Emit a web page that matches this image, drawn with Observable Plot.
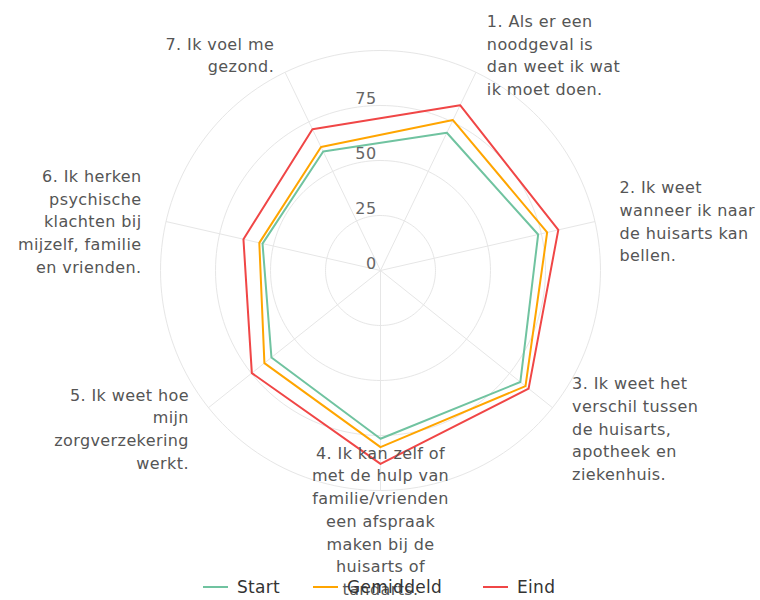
<!DOCTYPE html>
<html>
<head>
<meta charset="utf-8">
<script src="https://cdn.jsdelivr.net/npm/d3@7"></script>
<script src="https://cdn.jsdelivr.net/npm/@observablehq/plot@0.6"></script>
<style>
  html, body { margin: 0; padding: 0; background: #fff; }
  #wrap { position: relative; width: 760px; height: 600px; font-family: "DejaVu Sans", sans-serif; }
  #legend { position: relative; width: 760px; height: 26px; }
  .item { position: absolute; top: 0; height: 26px; display: flex; align-items: center; font-size: 17px; letter-spacing: 0.3px; color: #333; }
  .swatch { width: 25px; height: 0; border-top: 2px solid; margin-right: 9px; }
</style>
</head>
<body>
<div id="wrap"><div id="chart"></div><div id="legend"></div></div>
<script>
const categories = [
  "1. Als er een\nnoodgeval is\ndan weet ik wat\nik moet doen.",
  "2. Ik weet\nwanneer ik naar\nde huisarts kan\nbellen.",
  "3. Ik weet het\nverschil tussen\nde huisarts,\napotheek en\nziekenhuis.",
  "4. Ik kan zelf of\nmet de hulp van\nfamilie/vrienden\neen afspraak\nmaken bij de\nhuisarts of\ntandarts.",
  "5. Ik weet hoe\nmijn\nzorgverzekering\nwerkt.",
  "6. Ik herken\npsychische\nklachten bij\nmijzelf, familie\nen vrienden.",
  "7. Ik voel me\ngezond."
];
const seriesNames = ["Start", "Gemiddeld", "Eind"];
const seriesColors = ["#70c3a0", "#ffa500", "#f04646"];
const startValues = [69.5, 73.5, 81.3, 76.5, 63.4, 55.0, 60.0];
const gemiddeldValues = [75.9, 77.7, 84.3, 80.3, 67.5, 56.5, 62.3];
const eindValues = [83.4, 82.9, 86.1, 87.9, 74.8, 63.9, 71.3];
const radialTicks = [0, 25, 50, 75];
const gridLevels = [25, 50, 75, 100];
const axisMax = 100;

// layout
const W = 760, H = 574, cx = 380, cy = 270, pxPerUnit = 2.2;
const labelRadius = 111.4;

const n = categories.length;
const angle = i => (i + 0.5) * 2 * Math.PI / n;
const px = (v, a) => v * Math.sin(a);
const py = (v, a) => v * Math.cos(a);

const seriesValues = [startValues, gemiddeldValues, eindValues];
const rows = seriesNames.flatMap((s, si) =>
  categories.map((c, i) => ({series: s, i, value: seriesValues[si][i]})));

const circleRows = gridLevels.flatMap(level =>
  d3.range(0, 360, 2).map(deg => ({level, a: deg * Math.PI / 180})));

const catRows = categories.map((c, i) => ({text: c, i, a: angle(i)}));
const side = d => {
  const s = Math.sin(d.a);
  return s > 0.01 ? "start" : s < -0.01 ? "end" : "middle";
};

const textOpts = {fontSize: 16, fill: "#555", lineHeight: 1.42, lineAnchor: "middle", dy: 4};
const labelX = d => px(labelRadius, d.a);
const labelY = d => py(labelRadius, d.a);

const chart = Plot.plot({
  width: W,
  height: H,
  margin: 0,
  style: {fontFamily: "DejaVu Sans, sans-serif", overflow: "visible", background: "transparent", letterSpacing: "0.4px"},
  x: {domain: [-cx / pxPerUnit, (W - cx) / pxPerUnit], axis: null},
  y: {domain: [-(H - cy) / pxPerUnit, cy / pxPerUnit], axis: null},
  color: {domain: seriesNames, range: seriesColors},
  marks: [
    Plot.line(circleRows, {x: d => px(d.level, d.a), y: d => py(d.level, d.a), z: "level", curve: "linear-closed", stroke: "#e6e6e6", strokeWidth: 1}),
    Plot.link(catRows, {x1: 0, y1: 0, x2: d => px(axisMax, d.a), y2: d => py(axisMax, d.a), stroke: "#e6e6e6", strokeWidth: 1}),
    Plot.line(rows, {x: d => px(d.value, angle(d.i)), y: d => py(d.value, angle(d.i)), z: "series", stroke: "series", curve: "linear-closed", strokeWidth: 2}),
    Plot.text(radialTicks, {x: 0, y: d => d, text: d => String(d), textAnchor: "end", dx: -4, dy: -7, fontSize: 16, fill: "#666"}),
    Plot.text(catRows.filter(d => side(d) === "start"), {x: labelX, y: labelY, text: "text", textAnchor: "start", ...textOpts}),
    Plot.text(catRows.filter(d => side(d) === "end"), {x: labelX, y: labelY, text: "text", textAnchor: "end", ...textOpts}),
    Plot.text(catRows.filter(d => side(d) === "middle"), {x: labelX, y: labelY, text: "text", textAnchor: "middle", ...textOpts})
  ]
});
document.getElementById("chart").appendChild(chart);

const legendX = [203, 313, 483];
const legend = document.getElementById("legend");
seriesNames.forEach((s, i) => {
  const item = document.createElement("div");
  item.className = "item";
  item.style.left = legendX[i] + "px";
  const sw = document.createElement("span");
  sw.className = "swatch";
  sw.style.borderColor = seriesColors[i];
  const t = document.createElement("span");
  t.textContent = s;
  item.appendChild(sw);
  item.appendChild(t);
  legend.appendChild(item);
});
</script>
</body>
</html>
